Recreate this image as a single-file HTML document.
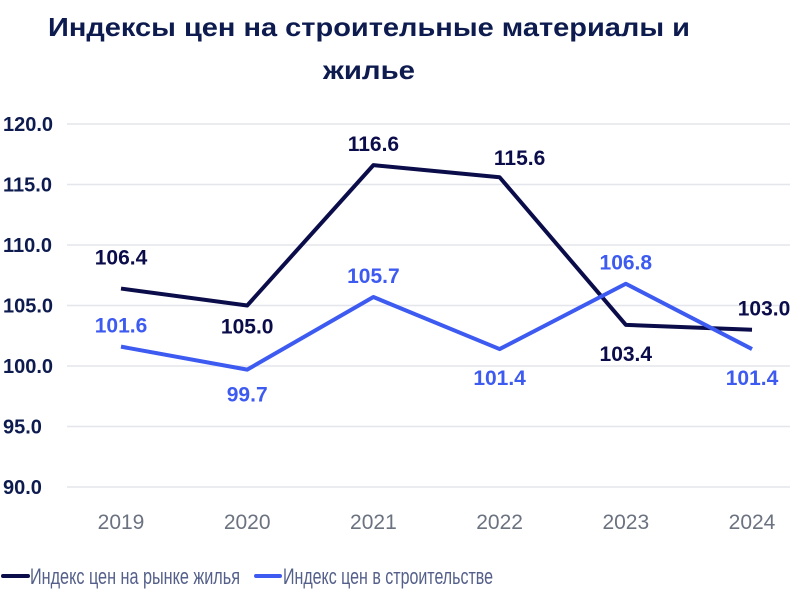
<!DOCTYPE html>
<html><head><meta charset="utf-8"><style>
body{margin:0;background:#fff;}
svg{display:block;font-family:"Liberation Sans","DejaVu Sans",sans-serif;}
</style></head><body>
<svg id="chart" width="800" height="600" viewBox="0 0 800 600">
<text x="48" y="36" textLength="642" lengthAdjust="spacingAndGlyphs" font-size="26" font-weight="bold" fill="#0d1b4f">Индексы цен на строительные материалы и</text>
<text x="323" y="79" textLength="92" lengthAdjust="spacingAndGlyphs" font-size="26" font-weight="bold" fill="#0d1b4f">жилье</text>
<g id="grid"></g><g id="series"></g><g id="labels"></g>
<g>
<line x1="3" y1="576" x2="28" y2="576" stroke="#0b0c4a" stroke-width="4" stroke-linecap="round"/>
<text x="30" y="584" textLength="210" lengthAdjust="spacingAndGlyphs" font-size="22" fill="#55608a">Индекс цен на рынке жилья</text>
<line x1="256" y1="576" x2="280" y2="576" stroke="#3d5af1" stroke-width="4" stroke-linecap="round"/>
<text x="283" y="584" textLength="210" lengthAdjust="spacingAndGlyphs" font-size="22" fill="#55608a">Индекс цен в строительстве</text>
</g>
</svg>
<script>
const categories=["2019","2020","2021","2022","2023","2024"];
const housing=[106.4,105.0,116.6,115.6,103.4,103.0];
const construction=[101.6,99.7,105.7,101.4,106.8,101.4];
const yTicks=[90,95,100,105,110,115,120];
const NS="http://www.w3.org/2000/svg";
function y(v){return 366-(v-100)*12.1;}
function x(i){return 121+i*126.2;}
function mk(tag,attrs,parent){const e=document.createElementNS(NS,tag);for(const k in attrs)e.setAttribute(k,attrs[k]);parent.appendChild(e);return e;}
const grid=document.getElementById('grid');
yTicks.forEach(t=>{
  const l=mk('line',{x1:67,x2:790,y1:y(t),y2:y(t),stroke:'#e3e6ea','stroke-width':1.5},grid);
  
  
  const tx=mk('text',{x:3,y:y(t)+7,'font-size':20,'font-weight':'bold',fill:'#0d1b4f'},grid);
  tx.textContent=t.toFixed(1);
  
  
});
categories.forEach((c,i)=>{
  const tx=mk('text',{x:x(i),y:529,'font-size':21,fill:'#6b7280','text-anchor':'middle'},grid);
  tx.textContent=c;
  
  
});
const ser=document.getElementById('series'),lab=document.getElementById('labels');
const offH=[[0,-24],[0,28],[0,-14],[20,-12],[0,36],[12,-14]];
const offC=[[0,-14],[0,32],[0,-14],[0,36],[0,-14],[0,36]];
function draw(vals,color,offs,name){
  const p=mk('polyline',{points:vals.map((v,i)=>x(i)+','+y(v)).join(' '),fill:'none',stroke:color,'stroke-width':4,'stroke-linejoin':'round'},ser);
  
  
  vals.forEach((v,i)=>{
    const t=mk('text',{x:x(i)+offs[i][0],y:y(v)+offs[i][1],'font-size':21,'font-weight':'bold',fill:color,'text-anchor':'middle'},lab);
    t.textContent=v.toFixed(1);
    
    
  });
}
draw(housing,'#0b0c4a',offH,'housing');
draw(construction,'#3d5af1',offC,'construction');
</script>
</body></html>
